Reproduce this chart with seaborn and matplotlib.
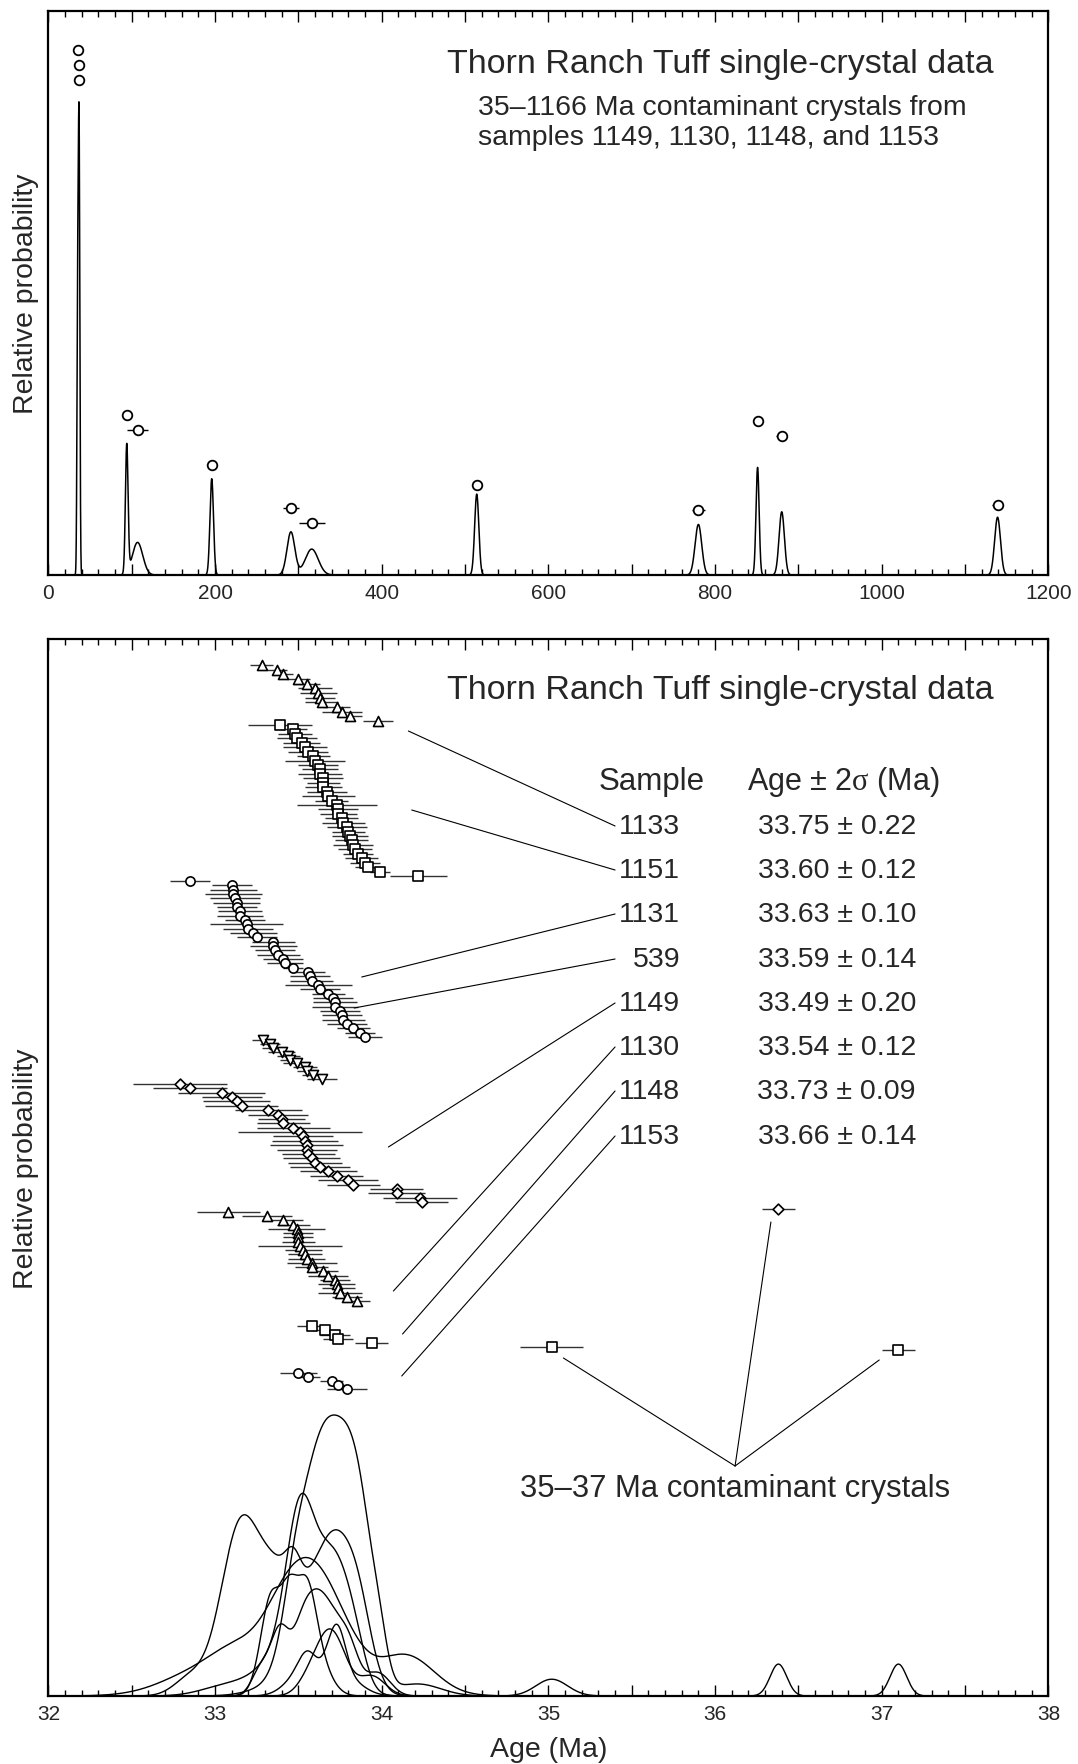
import numpy as np
import matplotlib
matplotlib.use("Agg")
import matplotlib.pyplot as plt
from matplotlib.ticker import MultipleLocator, FuncFormatter
import seaborn as sns

# ---------------- data ----------------
# upper panel: contaminant crystals (Ma) and 1-sigma used for the probability curve
top_ages = [35.05, 36.42, 37.17, 94, 107, 196, 291, 316, 514, 780, 851, 880, 1139]
top_sigma = [0.83, 0.83, 0.83, 1.58, 6.2, 2.1, 4.7, 7.8, 2.5, 4.0, 1.88, 3.2, 3.5]

# lower panel: single-crystal ages (Ma) and 2-sigma errors per sample
samples = ["1133", "1151", "1131", "539", "1149", "1130", "1148", "1153"]
sample_results = ["33.75 ± 0.22", "33.60 ± 0.12", "33.63 ± 0.10", "33.59 ± 0.14",
                  "33.49 ± 0.20", "33.54 ± 0.12", "33.73 ± 0.09", "33.66 ± 0.14"]

ages_1133 = [33.28, 33.37, 33.41, 33.50, 33.55, 33.60, 33.62, 33.63, 33.64, 33.73, 33.76, 33.81, 33.98]
err_1133 = [0.07, 0.06, 0.06, 0.07, 0.08, 0.10, 0.11, 0.09, 0.10, 0.08, 0.12, 0.07, 0.09]

ages_1151 = [33.39, 33.47, 33.48, 33.49, 33.52, 33.54, 33.56, 33.59, 33.60, 33.62, 33.63, 33.63,
             33.65, 33.65, 33.65, 33.67, 33.68, 33.70, 33.73, 33.74, 33.74, 33.76, 33.77, 33.79,
             33.80, 33.81, 33.82, 33.83, 33.84, 33.86, 33.88, 33.90, 33.92, 33.99, 34.22]
err_1151 = [0.19, 0.08, 0.10, 0.12, 0.11, 0.13, 0.12, 0.10, 0.18, 0.12, 0.11, 0.13,
            0.12, 0.10, 0.11, 0.12, 0.16, 0.10, 0.24, 0.12, 0.11, 0.10, 0.13, 0.12,
            0.10, 0.11, 0.10, 0.12, 0.10, 0.09, 0.10, 0.09, 0.08, 0.06, 0.17]

ages_1131 = [32.85, 33.10, 33.11, 33.11, 33.12, 33.13, 33.13, 33.15, 33.15, 33.18, 33.19, 33.20,
             33.23, 33.25, 33.35, 33.35, 33.36, 33.38, 33.41, 33.42, 33.47, 33.56, 33.57, 33.58,
             33.62, 33.63, 33.68, 33.71, 33.72, 33.72, 33.75, 33.76, 33.77, 33.79, 33.83, 33.87, 33.90]
err_1131 = [0.12, 0.12, 0.14, 0.17, 0.15, 0.14, 0.12, 0.13, 0.14, 0.12, 0.22, 0.15,
            0.14, 0.12, 0.13, 0.14, 0.12, 0.13, 0.12, 0.11, 0.06, 0.10, 0.12, 0.13,
            0.20, 0.12, 0.10, 0.12, 0.13, 0.14, 0.12, 0.12, 0.13, 0.12, 0.10, 0.09, 0.10]

ages_539 = [33.29, 33.33, 33.35, 33.40, 33.44, 33.45, 33.49, 33.54, 33.55, 33.59, 33.64]
err_539 = [0.07, 0.06, 0.07, 0.08, 0.07, 0.06, 0.08, 0.07, 0.06, 0.07, 0.09]

ages_1149 = [32.79, 32.85, 33.04, 33.10, 33.13, 33.16, 33.32, 33.38, 33.40, 33.41, 33.47, 33.51,
             33.53, 33.54, 33.55, 33.55, 33.56, 33.58, 33.60, 33.63, 33.68, 33.73, 33.80, 33.83,
             34.09, 34.09, 34.23, 34.24]
err_1149 = [0.28, 0.22, 0.26, 0.18, 0.20, 0.22, 0.20, 0.18, 0.14, 0.16, 0.22, 0.37,
            0.18, 0.20, 0.22, 0.18, 0.16, 0.17, 0.16, 0.18, 0.17, 0.16, 0.18, 0.16,
            0.16, 0.17, 0.22, 0.16]

ages_1130 = [33.08, 33.31, 33.41, 33.47, 33.49, 33.50, 33.50, 33.50, 33.51, 33.53, 33.54, 33.55,
             33.58, 33.58, 33.65, 33.68, 33.72, 33.73, 33.74, 33.75, 33.79, 33.85]
err_1130 = [0.19, 0.15, 0.12, 0.10, 0.17, 0.09, 0.09, 0.10, 0.25, 0.11, 0.10, 0.11,
            0.15, 0.10, 0.09, 0.12, 0.09, 0.11, 0.10, 0.13, 0.09, 0.08]

ages_1148 = [33.58, 33.66, 33.72, 33.74, 33.94]
err_1148 = [0.09, 0.08, 0.09, 0.09, 0.10]

ages_1153 = [33.50, 33.56, 33.70, 33.74, 33.79]
err_1153 = [0.11, 0.07, 0.07, 0.06, 0.12]

# 35-37 Ma contaminants shown in the lower panel
contam_ages = [35.02, 36.38, 37.10]
contam_err = [0.19, 0.10, 0.10]
contam_sample = ["1148", "1149", "1148"]

sample_ages = [ages_1133, ages_1151, ages_1131, ages_539, ages_1149, ages_1130, ages_1148, ages_1153]
sample_errs = [err_1133, err_1151, err_1131, err_539, err_1149, err_1130, err_1148, err_1153]

# ---------------- layout ----------------
top_marker_level = [0.931, 0.904, 0.878, 0.283, 0.257, 0.195, 0.118, 0.092, 0.159, 0.116, 0.273, 0.247, 0.124]
markers = ["^", "s", "o", "v", "D", "^", "s", "o"]
marker_size = [52, 44, 44, 52, 30, 52, 44, 44]
group_top = [1031, 971, 815, 656, 612, 484, 370, 323]
group_bottom = [975, 820, 659, 617, 494, 395, 353, 307]
contam_marker = ["s", "D", "s"]
contam_level = [349, 487, 346]
# leader lines (start near the group, end at the table row)
leader_start = [(34.16, 965), (34.18, 886), (33.88, 719), (33.835, 688),
                (34.04, 549), (34.07, 405), (34.125, 362), (34.12, 320)]
table_x_line = 35.40
row_y = [870, 826, 782, 737, 693, 649, 605, 560]
apex = (36.12, 230)
contam_line_end = [(35.09, 338), (36.335, 474), (36.985, 336)]
# kernel width of the lower-panel curves, as a fraction of the plotted error
kernel_frac = 0.8

sns.set_style("white")
plt.rcParams["font.family"] = ["Liberation Sans", "DejaVu Sans"]
plt.rcParams["mathtext.fontset"] = "custom"
plt.rcParams["mathtext.rm"] = "Liberation Serif"

W, H = 1078, 1765
fig = plt.figure(figsize=(W / 100, H / 100), dpi=100)
ax1 = fig.add_axes([48.4 / W, 1 - 576 / H, 1000 / W, 564 / H])
ax2 = fig.add_axes([48.4 / W, 1 - 1697 / H, 1000 / W, 1057 / H])


def gauss_sum(x, centers, sigmas):
    y = np.zeros_like(x)
    for c, s in zip(centers, sigmas):
        y += np.exp(-0.5 * ((x - c) / s) ** 2) / (s * np.sqrt(2 * np.pi))
    return y


def style_axis(ax, major, minor, label_step, fmt):
    ax.xaxis.set_major_locator(MultipleLocator(major))
    ax.xaxis.set_minor_locator(MultipleLocator(minor))
    ax.xaxis.set_major_formatter(FuncFormatter(
        lambda v, p: fmt(v) if abs(v / label_step - round(v / label_step)) < 1e-6 else ""))
    ax.tick_params(axis="x", which="both", direction="in", top=True, bottom=True,
                   labelsize=15, pad=6, width=1, color="black")
    ax.tick_params(axis="x", which="major", length=8)
    ax.tick_params(axis="x", which="minor", length=4.5)
    ax.set_yticks([])
    for sp in ax.spines.values():
        sp.set_visible(True)
        sp.set_linewidth(1.6)
        sp.set_color("black")


# ---------------- upper panel ----------------
xg = np.arange(0, 1200, 0.05)
yg = 0.899 * gauss_sum(xg, top_ages, top_sigma)
sns.lineplot(x=xg, y=yg, ax=ax1, color="black", linewidth=1.1, estimator=None, sort=False)
ax1.errorbar(top_ages, top_marker_level, xerr=2 * np.array(top_sigma), fmt="none",
             ecolor="black", elinewidth=1, capsize=0, zorder=2)
sns.scatterplot(x=top_ages, y=top_marker_level, ax=ax1, marker="o", s=48,
                color="white", edgecolor="black", linewidth=1.3, zorder=3)
ax1.set_xlim(0, 1200)
ax1.set_ylim(0, 1)
style_axis(ax1, 100, 20, 200, lambda v: f"{v:.0f}")
ax1.set_ylabel("Relative probability", fontsize=20.5, labelpad=7)
ax1.set_xlabel("")

fig.text(447 / W, 1 - 64 / H, "Thorn Ranch Tuff single-crystal data", fontsize=24.5, va="center")
fig.text(478 / W, 1 - 108 / H, "35–1166 Ma contaminant crystals from", fontsize=20.5, va="center")
fig.text(478 / W, 1 - 138 / H, "samples 1149, 1130, 1148, and 1153", fontsize=20.5, va="center")

# ---------------- lower panel ----------------
xb = np.arange(32, 38, 0.002)
curves = []
for name, a, e in zip(samples, sample_ages, sample_errs):
    ca = list(a) + [c for c, s in zip(contam_ages, contam_sample) if s == name]
    ce = list(np.array(e) * kernel_frac) + [c / 2 for c, s in zip(contam_err, contam_sample) if s == name]
    curves.append(gauss_sum(xb, ca, ce))
scale = 281 / max(c.max() for c in curves)
for c in curves:
    sns.lineplot(x=xb, y=c * scale, ax=ax2, color="black", linewidth=1.0,
                 estimator=None, sort=False)

for a, e, m, s, t, b in zip(sample_ages, sample_errs, markers, marker_size, group_top, group_bottom):
    ys = np.linspace(t, b, len(a))
    ax2.errorbar(a, ys, xerr=e, fmt="none", ecolor="0.2", elinewidth=1.0, capsize=0, zorder=2)
    sns.scatterplot(x=a, y=ys, ax=ax2, marker=m, s=s, color="white", edgecolor="black",
                    linewidth=1.2, zorder=3)

for a, e, m, yv in zip(contam_ages, contam_err, contam_marker, contam_level):
    ax2.errorbar([a], [yv], xerr=[e], fmt="none", ecolor="0.2", elinewidth=1.0, capsize=0, zorder=2)
    sns.scatterplot(x=[a], y=[yv], ax=ax2, marker=m, s=44 if m == "s" else 30,
                    color="white", edgecolor="black", linewidth=1.2, zorder=3)

for (x0, y0), yr in zip(leader_start, row_y):
    ax2.plot([x0, table_x_line], [y0, yr], color="black", lw=0.8)
for x1, y1 in contam_line_end:
    ax2.plot([apex[0], x1], [apex[1], y1], color="black", lw=0.8)

ax2.text(35.62, 915, "Sample", fontsize=22.5, ha="center", va="center")
ax2.text(36.77, 915, r"Age ± 2$\mathrm{\sigma}$ (Ma)", fontsize=22, ha="center", va="center")
for name, res, yr in zip(samples, sample_results, row_y):
    ax2.text(35.79, yr, name, fontsize=20.5, ha="right", va="center")
    ax2.text(36.73, yr, res, fontsize=20.5, ha="center", va="center")
ax2.text(36.12, 208, "35–37 Ma contaminant crystals", fontsize=22.3, ha="center", va="center")

ax2.set_xlim(32, 38)
ax2.set_ylim(0, 1057)
style_axis(ax2, 0.5, 0.1, 1, lambda v: f"{v:.0f}")
ax2.set_ylabel("Relative probability", fontsize=20.5, labelpad=7)
ax2.set_xlabel("Age (Ma)", fontsize=20.5, labelpad=9)
fig.text(447 / W, 1 - 691 / H, "Thorn Ranch Tuff single-crystal data", fontsize=24.5, va="center")

fig.savefig("out.png", dpi=100)
